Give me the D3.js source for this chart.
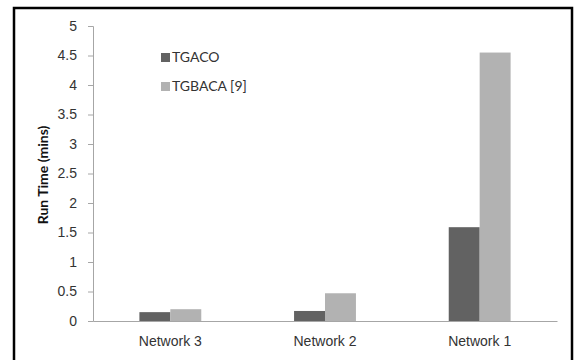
<!DOCTYPE html>
<html>
<head>
<meta charset="utf-8">
<script src="https://cdn.jsdelivr.net/npm/d3@7"></script>
<style>
  html, body { margin: 0; padding: 0; background: #fff; }
  svg { display: block; font-family: Lato, "Open Sans", sans-serif; }
</style>
</head>
<body>
<svg id="chart" width="577" height="360"></svg>
<script>
// Run time per network for the two algorithms
const categories = ["Network 3", "Network 2", "Network 1"];
const seriesNames = ["TGACO", "TGBACA [9]"];
const tgaco = [0.15, 0.17, 1.59];
const tgbaca = [0.2, 0.47, 4.55];
const yTicks = [0, 0.5, 1, 1.5, 2, 2.5, 3, 3.5, 4, 4.5, 5];
const colors = ["#626262", "#b2b2b2"];

const svg = d3.select("#chart");

// outer frame
svg.append("rect")
  .attr("x", 14).attr("y", 8)
  .attr("width", 558).attr("height", 360)
  .attr("fill", "#fff").attr("stroke", "#000").attr("stroke-width", 2.5);

const plot = { left: 93, right: 557, top: 26, bottom: 321 };

const y = d3.scaleLinear().domain([0, 5]).range([plot.bottom, plot.top]);
const x0 = d3.scaleBand().domain(categories).range([plot.left, plot.right]);
const bw = x0.bandwidth();
const x1 = d3.scaleBand().domain(seriesNames)
  .range([bw * 0.3, bw * 0.7]);

const axisColor = "#a6a6a6";
const textColor = "#333";
const fontSize = "14px";

// y axis
const yAxis = svg.append("g")
  .attr("transform", `translate(${plot.left},0)`)
  .call(d3.axisLeft(y).tickValues(yTicks).tickSize(5).tickPadding(11)
    .tickFormat(d3.format("")));
yAxis.select(".domain").attr("stroke", axisColor);
yAxis.selectAll(".tick line").attr("stroke", axisColor);
yAxis.selectAll("text")
  .attr("fill", textColor).style("font-size", fontSize);

// bars
const rows = categories.map((c, i) => ({ cat: c, vals: [tgaco[i], tgbaca[i]] }));
const groups = svg.selectAll("g.grp").data(rows).join("g")
  .attr("class", "grp")
  .attr("transform", d => `translate(${x0(d.cat)},0)`);
groups.selectAll("rect")
  .data(d => d.vals.map((v, j) => ({ name: seriesNames[j], v, j })))
  .join("rect")
  .attr("x", d => x1(d.name))
  .attr("width", x1.bandwidth())
  .attr("y", d => y(d.v))
  .attr("height", d => y(0) - y(d.v))
  .attr("fill", d => colors[d.j]);

// x axis
const xAxis = svg.append("g")
  .attr("transform", `translate(0,${plot.bottom})`)
  .call(d3.axisBottom(x0).tickSize(0).tickPadding(15));
xAxis.select(".domain").attr("stroke", axisColor);
xAxis.selectAll("text")
  .attr("fill", textColor).style("font-size", fontSize);

// y axis title
svg.append("text")
  .attr("transform", "translate(48,175) rotate(-90)")
  .attr("text-anchor", "middle")
  .attr("fill", "#111")
  .style("font-size", fontSize)
  .style("font-weight", "bold")
  .text("Run Time (mins)");

// legend
const legend = svg.append("g").attr("transform", "translate(161,53)");
seriesNames.forEach((name, i) => {
  const g = legend.append("g").attr("transform", `translate(0,${i * 29})`);
  g.append("rect").attr("width", 9).attr("height", 9).attr("fill", colors[i]);
  g.append("text").attr("x", 11).attr("y", 4.5).attr("dy", "0.35em")
    .attr("fill", textColor).style("font-size", fontSize).text(name);
});
</script>
</body>
</html>
